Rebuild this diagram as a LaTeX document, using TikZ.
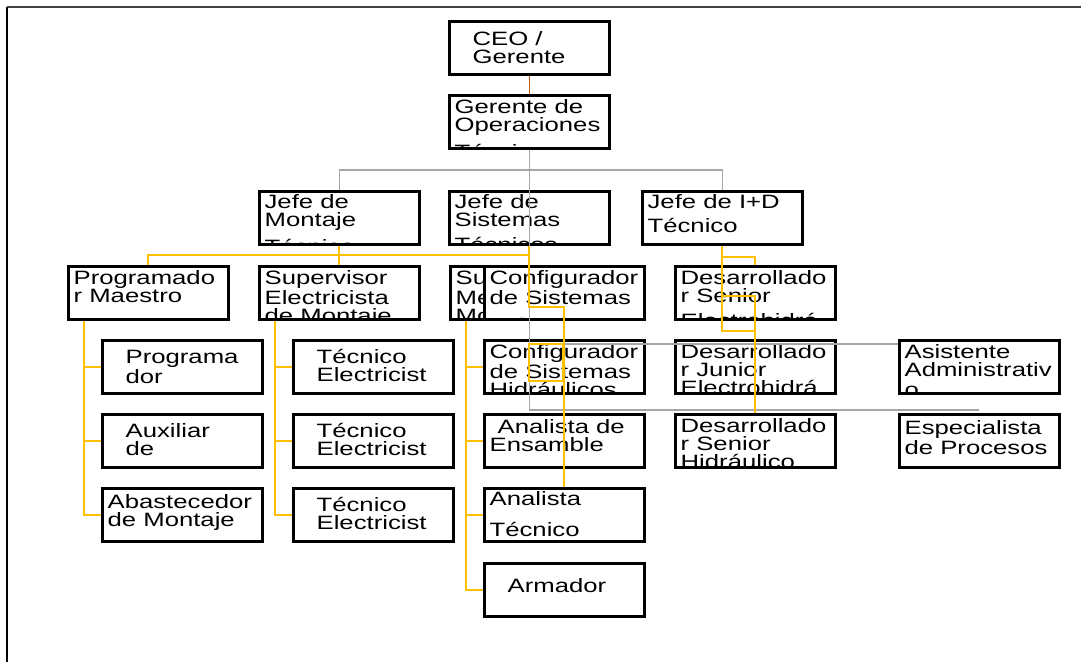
\documentclass[tikz,border=0pt]{standalone}
\usepackage{fontspec}
\setmainfont{Liberation Sans}[FakeStretch=1.33]
\usetikzlibrary{positioning}
\definecolor{grisline}{HTML}{A6A6A6}
\definecolor{amarillo}{HTML}{FFC000}
\definecolor{naranja}{HTML}{C55A11}
\newdimen\px \px=0.02cm

\tikzset{
  orgbox/.style n args={3}{rectangle, draw=black, line width=1.5pt, fill=white, anchor=north west,
    minimum width=3.2cm, minimum height=1.06cm, inner sep=0pt,
    path picture={\node[anchor=north west, inner sep=0pt, minimum width=0pt, minimum height=0pt,
        draw=none, fill=none, align=left, font=\fontsize{11}{10.24}\selectfont]
      at ([xshift=#1\px]path picture bounding box.north west) {\rule{0pt}{#2\px}#3};}},
  grisl/.style={draw=grisline, line width=0.8pt},
  amal/.style={draw=amarillo, line width=1.1pt},
  ceol/.style={draw=naranja, line width=0.9pt}
}

\begin{document}
\begin{tikzpicture}[x=0.02cm, y=-0.02cm]
      \useasboundingbox (0,0) rectangle (1081,662);
      % frame
      \draw[line width=1.3pt, black!75] (7,7) -- (1081,7);
      \draw[line width=1pt] (7,7) -- (7,662);

      % top
      \node[orgbox={22}{23}{CEO /\\Gerente}] (ceo) at (448,20) {};
      \node[orgbox={4}{17}{Gerente de\\Operaciones\\[0.14cm]Técnicos}] (gop) at (448,94) {};

      % jefes
      \node[orgbox={4}{16}{Jefe de\\Montaje\\[0.14cm]Técnico}] (jmon) at (258,190) {};
      \node[orgbox={4}{16}{Jefe de\\Sistemas\\[0.14cm]Técnicos}] (jsis) at (448,190) {};
      \node[orgbox={4}{16}{Jefe de I+D\\[0.12cm]Técnico}] (jid) at (641,190) {};

      % Montaje
      \node[orgbox={4}{17}{Programado\\r Maestro}] (pmae) at (67,265) {};
      \node[orgbox={22}{22}{Programa\\dor}] (prog) at (101,339) {};
      \node[orgbox={22}{22}{Auxiliar\\de\\[0.2cm]Montaje}] (aux) at (101,413) {};
      \node[orgbox={4}{19}{Abastecedor\\de Montaje}] (abas) at (101,487) {};
      \node[orgbox={4}{17}{Supervisor\\Electricista\\de Montaje}] (sele) at (258,265) {};
      \node[orgbox={22}{22}{Técnico\\Electricist}] (tec1) at (292,339) {};
      \node[orgbox={22}{22}{Técnico\\Electricist}] (tec2) at (292,413) {};
      \node[orgbox={22}{22}{Técnico\\Electricist}] (tec3) at (292,487) {};

      % Sistemas
      \node[orgbox={4}{17}{Supervisor\\Mecánico de\\Montaje}] (smec) at (449,265) {};
      \node[orgbox={4}{17}{Configurador\\de Sistemas\\[0.2cm]Eléctricos}] (cele) at (483,265) {};
      \node[orgbox={4}{17}{Configurador\\de Sistemas\\Hidráulicos}] (chid) at (483,339) {};
      \node[orgbox={12}{18}{Analista de\\\hspace*{-0.16cm}Ensamble}] (aens) at (483,413) {};
      \node[orgbox={4}{16}{Analista\\[0.26cm]Técnico}] (atec) at (483,487) {};
      \node[orgbox={22}{28}{Armador}] (arm) at (483,562) {};

      % I+D
      \node[orgbox={4}{17}{Desarrollado\\r Senior\\[0.14cm]Electrohidrá}] (dse) at (674,265) {};
      \node[orgbox={4}{17}{Desarrollado\\r Junior\\Electrohidrá}] (djr) at (674,339) {};
      \node[orgbox={4}{17}{Desarrollado\\r Senior\\Hidráulico}] (dsh) at (674,413) {};
      \node[orgbox={4}{17}{Asistente\\Administrativ\\[0.04cm]o}] (asis) at (898,339) {};
      \node[orgbox={4}{19}{Especialista\\de Procesos}] (esp) at (898,413) {};

      % gray connectors
      \draw[ceol] (ceo.south) -- (gop.north);
      \draw[grisl] (jmon.north) -- ++(0,-20) -| (jid.north);
      \draw[grisl] (gop.south) |- ([yshift=0.06cm]esp.north);
      \draw[grisl] ([yshift=-0.1cm]asis.north west) -| (gop.south);

      % yellow connectors
      \draw[amal] (pmae.north) -- ++(0,-10) -| (jsis.south);
      \draw[amal] (jmon.south) -- (sele.north);
      \foreach \n in {prog,aux,abas}
        \draw[amal] ([xshift=0.34cm]pmae.south west) |- (\n.west);
      \foreach \n in {tec1,tec2,tec3}
        \draw[amal] ([xshift=0.34cm]sele.south west) |- (\n.west);
      \foreach \n in {chid,aens,atec,arm}
        \draw[amal] ([xshift=0.34cm]smec.south west) |- (\n.west);
      \draw[amal] (jsis.south) -- ++(0,61) -| (atec.north);
      \draw[amal] ([yshift=-1.96cm]jsis.south) rectangle ++(34,37);
      \draw[amal] (jid.south) -- ++(0,11) -| (dse.north);
      \draw[amal] (jid.south) -- ++(0,85) -- ++(33,0);
      \draw[amal] ([yshift=-1cm]jid.south) -| (dsh.north);
\end{tikzpicture}
\end{document}
